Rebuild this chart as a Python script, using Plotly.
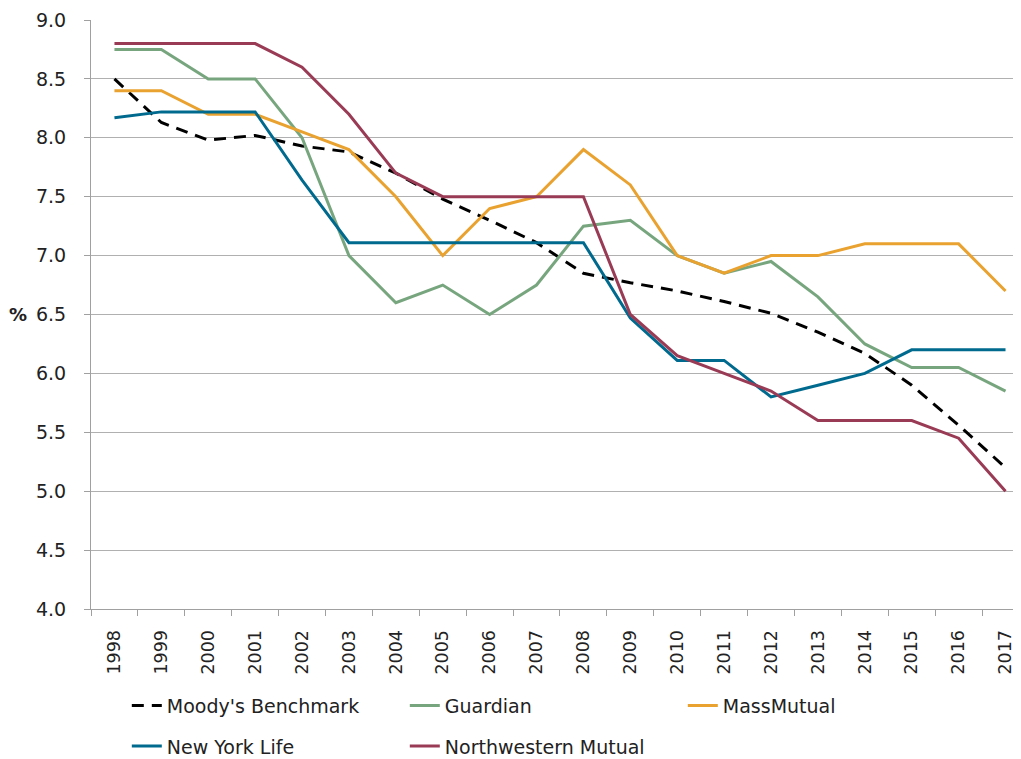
import plotly.graph_objects as go

years = [str(y) for y in range(1998, 2018)]

moodys = [8.50, 8.13, 7.98, 8.02, 7.93, 7.88, 7.70, 7.48, 7.30, 7.11, 6.85, 6.77, 6.70, 6.61, 6.51, 6.35, 6.17, 5.90, 5.56, 5.20]
guardian = [8.75, 8.75, 8.50, 8.50, 8.00, 7.00, 6.60, 6.75, 6.50, 6.75, 7.25, 7.30, 7.00, 6.85, 6.95, 6.65, 6.25, 6.05, 6.05, 5.85]
massmutual = [8.40, 8.40, 8.20, 8.20, 8.05, 7.90, 7.50, 7.00, 7.40, 7.50, 7.90, 7.60, 7.00, 6.85, 7.00, 7.00, 7.10, 7.10, 7.10, 6.70]
newyorklife = [8.17, 8.22, 8.22, 8.22, 7.64, 7.11, 7.11, 7.11, 7.11, 7.11, 7.11, 6.47, 6.11, 6.11, 5.80, 5.90, 6.00, 6.20, 6.20, 6.20]
northwestern = [8.80, 8.80, 8.80, 8.80, 8.60, 8.20, 7.70, 7.50, 7.50, 7.50, 7.50, 6.50, 6.15, 6.00, 5.85, 5.60, 5.60, 5.60, 5.45, 5.00]

FONT = "DejaVu Sans"
TXT = "#222222"
fig = go.Figure()

series = [
    ("Moody's Benchmark", moodys, "#000000", "12px,8px", "legend"),
    ("Guardian", guardian, "#77A67E", "solid", "legend"),
    ("MassMutual", massmutual, "#E9A22F", "solid", "legend"),
    ("New York Life", newyorklife, "#006A8E", "solid", "legend2"),
    ("Northwestern Mutual", northwestern, "#9A3B56", "solid", "legend2"),
]
for name, vals, col, dash, lg in series:
    fig.add_trace(go.Scatter(x=years, y=vals, mode="lines", name=name,
                             line=dict(color=col, width=3, dash=dash),
                             legend=lg))

legend_common = dict(orientation="h", xanchor="left", yanchor="middle",
                     font=dict(family=FONT, size=19, color=TXT),
                     entrywidth=233, entrywidthmode="pixels",
                     bgcolor="rgba(0,0,0,0)", traceorder="normal")

# page body adds an 8px offset; figure extends a bit past the window bottom
fig.update_layout(
    width=1013, height=775,
    margin=dict(l=83, r=0, t=11.5, b=173.5),
    plot_bgcolor="white", paper_bgcolor="white",
    font=dict(family=FONT, size=18, color=TXT),
    legend=dict(x=0.0385, y=-0.164, **legend_common),
    legend2=dict(x=0.0385, y=-0.233, **legend_common),
    xaxis=dict(type="category", range=[-0.5, 19.33], tickson="boundaries",
               ticks="outside", ticklen=6, tickcolor="#A0A0A0",
               showline=True, linecolor="#A0A0A0", linewidth=1,
               showgrid=False, tickangle=-90, automargin=False,
               ticklabelstandoff=13,
               tickfont=dict(family=FONT, size=17.5, color=TXT)),
    yaxis=dict(range=[4, 9], dtick=0.5, tick0=4, tickformat=".1f",
               ticks="outside", ticklen=6, tickcolor="#A0A0A0",
               showline=True, linecolor="#A0A0A0", linewidth=1,
               showgrid=True, gridcolor="#B0B0B0", gridwidth=1.3,
               zeroline=False, ticklabelstandoff=14, automargin=False,
               tickfont=dict(family=FONT, size=19, color=TXT)),
    annotations=[dict(text="<b>%</b>", xref="paper", yref="paper",
                      x=-0.0785, y=0.5, xanchor="center", yanchor="middle",
                      showarrow=False,
                      font=dict(family=FONT, size=18, color=TXT))],
)

fig.write_html("out.html")
